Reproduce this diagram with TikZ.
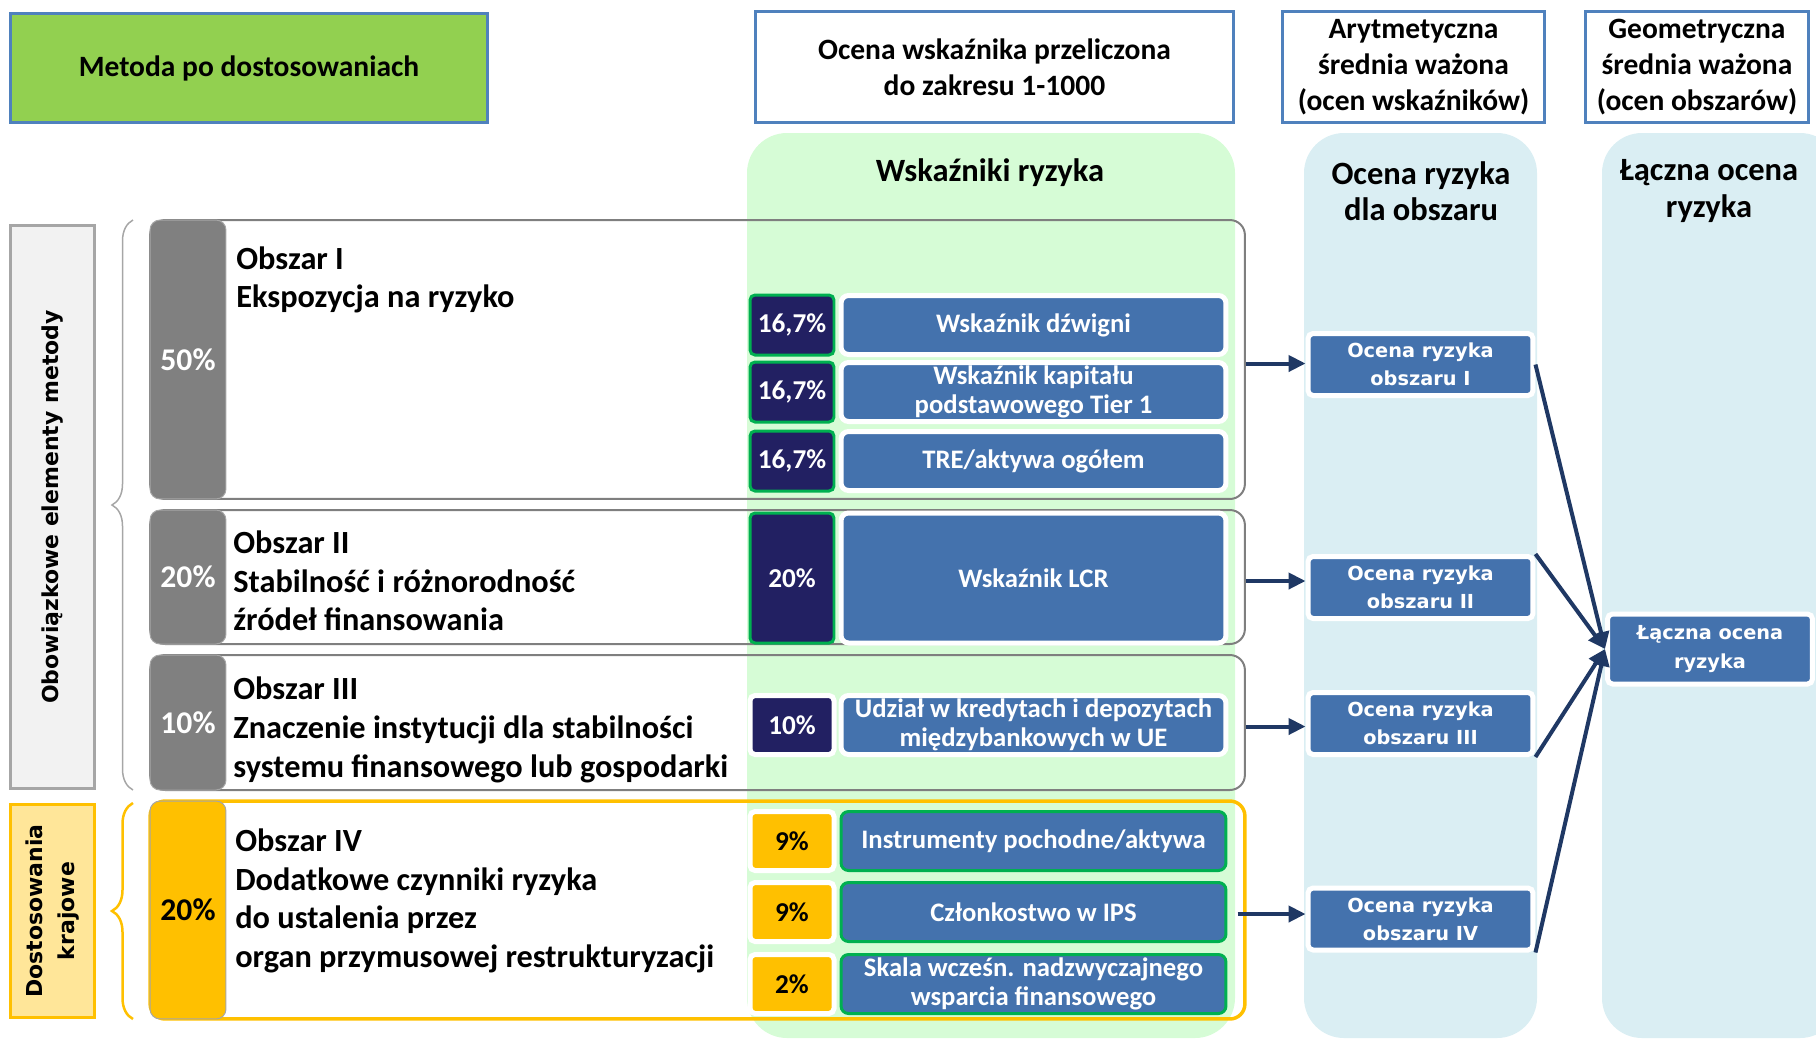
\documentclass[tikz,border=0pt]{standalone}
\usepackage{fontspec}
\setmainfont{Carlito}
\newfontfamily\verdfont{DejaVu Sans}
\usepackage{tikz}
\usetikzlibrary{arrows.meta,positioning,decorations.pathreplacing}

\definecolor{hdrblue}{HTML}{4F81BD}
\definecolor{titlegreen}{HTML}{92D050}
\definecolor{colgreen}{HTML}{D6FCD6}
\definecolor{colblue}{HTML}{DAEEF3}
\definecolor{bargray}{HTML}{808080}
\definecolor{linegray}{HTML}{7F7F7F}
\definecolor{labelgray}{HTML}{A6A6A6}
\definecolor{navybox}{HTML}{222062}
\definecolor{pctgreen}{HTML}{00B050}
\definecolor{indblue}{HTML}{4472AD}
\definecolor{ambar}{HTML}{FFC000}
\definecolor{paleyellow}{HTML}{FFE699}
\definecolor{arrownavy}{HTML}{1F3864}

\tikzset{
  hdrbox/.style={draw=hdrblue, line width=0.06cm, fill=white, align=center, inner sep=0,
    font=\bfseries\fontsize{16.8}{20.5}\selectfont},
  coltitle/.style={align=center, font=\bfseries\fontsize{18.5}{20.5}\selectfont},
  sidelabel/.style={line width=0.06cm, rotate=90, align=center, inner sep=0,
    font=\verdfont\bfseries\fontsize{12.5}{18}\selectfont},
  areabox/.style={draw=linegray, line width=0.04cm, rounded corners=0.3cm, inner sep=0},
  areatext/.style={anchor=west, align=left, inner sep=0,
    font=\bfseries\fontsize{18.4}{22}\selectfont},
  pctbar/.style={fill=bargray, draw=labelgray, line width=0.02cm, rounded corners=0.2cm,
    minimum width=1.52cm, inner sep=0, text=white, font=\bfseries\fontsize{18}{20}\selectfont},
  pctbox/.style={fill=navybox, draw=pctgreen, line width=0.06cm, rounded corners=0.1cm,
    minimum width=1.68cm, minimum height=1.2cm, inner sep=0, text=white,
    font=\bfseries\fontsize{15.5}{17}\selectfont},
  indbox/.style={fill=indblue, draw=white, line width=0.1cm, rounded corners=0.15cm,
    minimum width=7.7cm, minimum height=1.18cm, inner sep=0, align=center, text=white,
    font=\bfseries\fontsize{15.2}{16.5}\selectfont},
  ocenabox/.style={fill=indblue, draw=white, line width=0.1cm, rounded corners=0.1cm,
    minimum width=4.5cm, minimum height=1.24cm, inner sep=0, align=center, text=white,
    font=\verdfont\bfseries\fontsize{11}{16}\selectfont},
  link/.style={draw=arrownavy, line width=0.08cm, -{Triangle[length=0.34cm,width=0.32cm]}},
}

\begin{document}
\begin{tikzpicture}[x=0.02cm,y=-0.02cm]
\useasboundingbox (0,0) rectangle (1816,1039);

% columns
\fill[colgreen, rounded corners=0.8cm] (747,133) rectangle (1235,1038);
\fill[colblue, rounded corners=0.8cm] (1304,133) rectangle (1537,1038);
\fill[colblue, rounded corners=0.8cm] (1602,133) rectangle (1840,1038);
\node[coltitle] (tytulW) at (990,173) {Wskaźniki ryzyka};
\node[coltitle] (tytulO) at (1421,191) {Ocena ryzyka\\dla obszaru};
\node[coltitle] (tytulL) at (1709,191) {Łączna ocena\\ryzyka};

% headers
\node[hdrbox, fill=titlegreen, minimum width=9.54cm, minimum height=2.18cm] (metoda) at (249,68) {Metoda po dostosowaniach};
\node[hdrbox, minimum width=9.56cm, minimum height=2.22cm] (przelicz) at (994.5,67) {Ocena wskaźnika przeliczona\\do zakresu 1-1000};
\node[hdrbox, minimum width=5.24cm, minimum height=2.22cm] (arytm) at (1413.5,67) {Arytmetyczna\\średnia ważona\\(ocen wskaźników)};
\node[hdrbox, minimum width=4.46cm, minimum height=2.22cm] (geom) at (1697,67) {Geometryczna\\średnia ważona\\(ocen obszarów)};

% side labels
\node[sidelabel, draw=labelgray, fill=black!5, minimum width=11.26cm, minimum height=1.68cm] (obow) at (52.5,507) {Obowiązkowe elementy metody};
\node[sidelabel, draw=ambar, fill=paleyellow, minimum width=4.26cm, minimum height=1.68cm] (dostos) at (52.5,911) {Dostosowania\\krajowe};
\draw[labelgray, line width=0.03cm, decorate, decoration={brace, amplitude=0.42cm}] (133,790) -- (133,220);
\draw[ambar, line width=0.05cm, decorate, decoration={brace, amplitude=0.42cm}] (133,1019) -- (133,803);

% areas
\node[areabox, minimum width=21.9cm, minimum height=5.58cm] (obszarI) at (697.5,359.5) {};
\node[areabox, minimum width=21.9cm, minimum height=2.68cm] (obszarII) at (697.5,577) {};
\node[areabox, minimum width=21.9cm, minimum height=2.7cm] (obszarIII) at (697.5,722.5) {};
\node[areabox, draw=ambar, line width=0.07cm, minimum width=21.9cm, minimum height=4.36cm] (obszarIV) at (697.5,910) {};

\node[pctbar, minimum height=5.58cm] (barI) at (188,359.5) {50\%};
\node[pctbar, minimum height=2.68cm] (barII) at (188,577) {20\%};
\node[pctbar, minimum height=2.7cm] (barIII) at (188,722.5) {10\%};
\node[pctbar, fill=ambar, text=black, minimum height=4.36cm] (barIV) at (188,910) {20\%};

\node[areatext] (txtI) at (236,280) {Obszar I\\Ekspozycja na ryzyko};
\node[areatext] (txtII) at (233,581) {Obszar II\\Stabilność i różnorodność\\źródeł finansowania};
\node[areatext] (txtIII) at (233,730) {Obszar III\\Znaczenie instytucji dla stabilności\\systemu finansowego lub gospodarki};
\node[areatext] (txtIV) at (235,901) {Obszar IV\\Dodatkowe czynniki ryzyka\\do ustalenia przez\\organ przymusowej restrukturyzacji};

% weights and indicators
\node[pctbox] (wagaI1) at (792,325) {16,7\%};
\node[pctbox] (wagaI2) at (792,392) {16,7\%};
\node[pctbox] (wagaI3) at (792,461) {16,7\%};
\node[pctbox, minimum height=2.6cm] (wagaII) at (792,578) {20\%};
\node[pctbox, draw=white, line width=0.1cm, minimum height=1.18cm] (wagaIII) at (792,725) {10\%};
\node[pctbox, fill=ambar, draw=white, line width=0.1cm, text=black, minimum height=1.18cm] (wagaIV1) at (792,841) {9\%};
\node[pctbox, fill=ambar, draw=white, line width=0.1cm, text=black, minimum height=1.18cm] (wagaIV2) at (792,912) {9\%};
\node[pctbox, fill=ambar, draw=white, line width=0.1cm, text=black, minimum height=1.18cm] (wagaIV3) at (792,984) {2\%};

\node[indbox] (wskI1) at (1033.5,325) {Wskaźnik dźwigni};
\node[indbox] (wskI2) at (1033.5,392) {Wskaźnik kapitału\\podstawowego Tier 1};
\node[indbox] (wskI3) at (1033.5,461) {TRE/aktywa ogółem};
\node[indbox, minimum height=2.6cm] (wskII) at (1033.5,578) {Wskaźnik LCR};
\node[indbox] (wskIII) at (1033.5,725) {Udział w kredytach i depozytach\\międzybankowych w UE};
\node[indbox, draw=pctgreen, line width=0.06cm] (wskIV1) at (1033.5,841) {Instrumenty pochodne/aktywa};
\node[indbox, draw=pctgreen, line width=0.06cm] (wskIV2) at (1033.5,912) {Członkostwo w IPS};
\node[indbox, draw=pctgreen, line width=0.06cm] (wskIV3) at (1033.5,984) {Skala wcześn. nadzwyczajnego\\wsparcia finansowego};

% area scores
\node[ocenabox] (ocenaI) at (1420.5,364.5) {Ocena ryzyka\\obszaru I};
\node[ocenabox] (ocenaII) at (1420.5,587.5) {Ocena ryzyka\\obszaru II};
\node[ocenabox] (ocenaIII) at (1420.5,723.5) {Ocena ryzyka\\obszaru III};
\node[ocenabox] (ocenaIV) at (1420.5,919) {Ocena ryzyka\\obszaru IV};
\node[ocenabox, minimum width=4.1cm, minimum height=1.4cm] (laczna) at (1710,649) {Łączna ocena\\ryzyka};

% arrows
\draw[link] ([yshift=-0.08cm]obszarI.east) -- ([yshift=-0.08cm]obszarI.east -| ocenaI.west);
\draw[link] ([yshift=-0.08cm]obszarII.east) -- ([yshift=-0.08cm]obszarII.east -| ocenaII.west);
\draw[link] ([yshift=-0.08cm]obszarIII.east) -- ([yshift=-0.08cm]obszarIII.east -| ocenaIII.west);
\draw[link] ([xshift=-0.18cm,yshift=-0.08cm]obszarIV.east) -- ([yshift=-0.08cm]obszarIV.east -| ocenaIV.west);
\draw[link] (ocenaI.east) -- (laczna.west);
\draw[link] (ocenaII.north east) -- (laczna.west);
\draw[link] (ocenaIII.south east) -- (laczna.west);
\draw[link] (ocenaIV.south east) -- (laczna.west);

\end{tikzpicture}
\end{document}
